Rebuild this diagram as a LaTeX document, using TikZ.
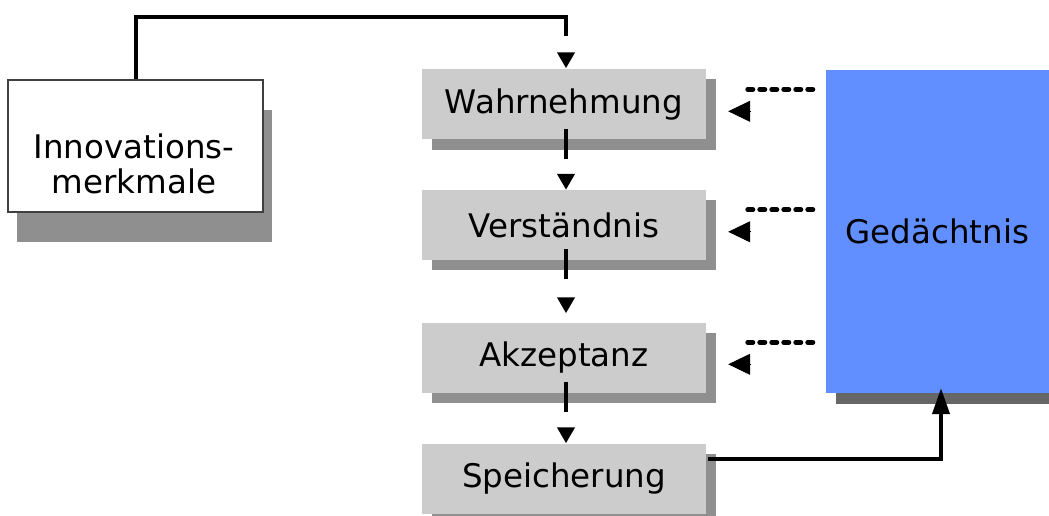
\documentclass[tikz,border=0pt]{standalone}
\usepackage{fontspec}
\setmainfont{DejaVu Sans}
\usetikzlibrary{arrows.meta,calc,shadows}
\definecolor{boxgray}{HTML}{CCCCCC}
\definecolor{shadowgray}{HTML}{8F8F8F}
\definecolor{gedblue}{HTML}{628FFF}
\definecolor{gedshadow}{HTML}{666666}
\definecolor{innoborder}{HTML}{404040}
\begin{document}
\begin{tikzpicture}[x=1pt,y=-1pt,
  txt/.style={font=\fontsize{32.5}{35}\selectfont},
  stage/.style={fill=boxgray, minimum width=284pt, minimum height=70pt, inner sep=0pt, txt,
    general shadow={fill=shadowgray, shadow xshift=10pt, shadow yshift=-10pt}},
  innobox/.style={draw=innoborder, line width=1.5pt, fill=white, minimum width=255pt, minimum height=132pt, inner sep=0pt,
    general shadow={fill=shadowgray, shadow xshift=8.5pt, shadow yshift=-30pt}},
  gedbox/.style={fill=gedblue, minimum width=223pt, minimum height=323pt, inner sep=0pt, txt,
    general shadow={fill=gedshadow, shadow xshift=10pt, shadow yshift=-11pt}},
  conn/.style={draw=black, line width=4pt},
  vtip/.style={-{Triangle[length=16pt,width=17pt]}},
  memline/.style={draw=black, line width=5pt, dash pattern=on 5pt off 7pt, line cap=round},
  memtip/.style={line width=1pt, -{Triangle[length=22pt,width=21pt]}}
]
\useasboundingbox (0,0) rectangle (1049,516);

% boxes
\node[innobox] (inno) at (135.5,146) {};
\node[txt, align=center, inner sep=0pt] (innolbl) at (134,164) {Innovations-\\merkmale};
\node[stage] (wahr) at (564,104.5) {Wahrnehmung};
\node[stage] (verst) at (564,225) {Verständnis};
\node[stage] (akz) at (564,357.5) {Akzeptanz};
\node[stage] (speich) at (564,478.5) {Speicherung};
\node[gedbox] (ged) at (937.5,231.5) {Gedächtnis};

% top connector
\draw[conn, dash pattern=on 512pt off 100pt, vtip] (inno.north) |- ($(wahr.north)+(2,-52.5)$) -- ($(wahr.north)+(2,-1)$);

% vertical connectors
\draw[conn, dash pattern=on 30pt off 40pt, vtip] ([xshift=2pt,yshift=11pt]wahr.south) -- ([xshift=2pt]verst.north);
\draw[conn, dash pattern=on 30pt off 40pt, vtip] ([xshift=2pt,yshift=11pt]verst.south) -- ([xshift=2pt,yshift=9pt]akz.north);
\draw[conn, dash pattern=on 30pt off 40pt, vtip] ([xshift=2pt,yshift=11pt]akz.south) -- ([xshift=2pt]speich.north);

% memory feedback connectors
\foreach \b/\i in {wahr/1, verst/2, akz/3}{
  \coordinate (m\i a) at ($(ged.west |- \b.north)+(-13,20)$);
  \coordinate (m\i b) at ($(\b.north east)+(39,20)$);
  \draw[memline] (m\i a) -- (m\i b);
  \coordinate (m\i c) at ($(\b.north east)+(44,42)$);
  \coordinate (m\i d) at ($(\b.north east)+(22,42)$);
  \draw[memtip] (m\i c) -- (m\i d);
}

% storage to memory
\draw[conn, -{Triangle[length=26pt,width=17pt]}] ($(speich.north east)+(2,16)$) -| ($(ged.south)+(3.5,-5)$);
\end{tikzpicture}
\end{document}
